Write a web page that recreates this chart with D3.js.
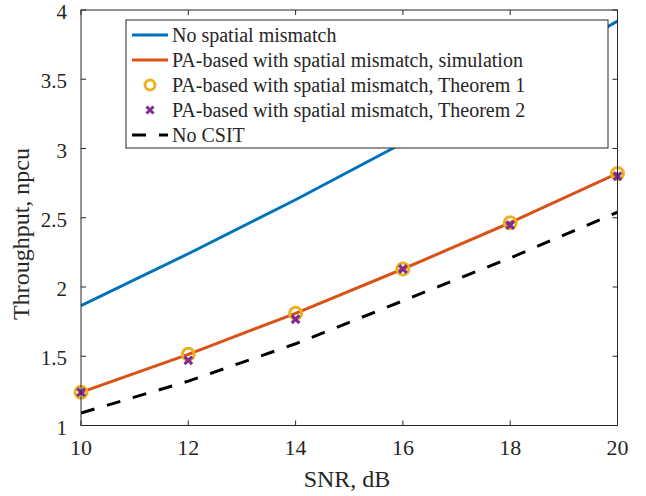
<!DOCTYPE html>
<html>
<head>
<meta charset="utf-8">
<script src="https://cdn.jsdelivr.net/npm/d3@7"></script>
<style>
  body { margin: 0; background: #fff; }
  svg { display: block; }
  text { font-family: "Liberation Serif", "Times New Roman", serif; fill: #262626; }
</style>
</head>
<body>
<svg id="chart" width="646" height="496"></svg>
<script>
// values
var snr = [10, 12, 14, 16, 18, 20];
var noMismatch = [1.865, 2.24, 2.63, 3.04, 3.47, 3.92];
var paSim = [1.24, 1.514, 1.81, 2.13, 2.464, 2.82];
var paThm1 = [1.24, 1.514, 1.81, 2.13, 2.464, 2.82];
var paThm2 = [1.24, 1.47, 1.767, 2.13, 2.447, 2.80];
var noCsit = [1.09, 1.32, 1.59, 1.90, 2.21, 2.54];
var xTicks = [10, 12, 14, 16, 18, 20];
var yTicks = [1, 1.5, 2, 2.5, 3, 3.5, 4];
var legendLabels = [
    'No spatial mismatch',
    'PA-based with spatial mismatch, simulation',
    'PA-based with spatial mismatch, Theorem 1',
    'PA-based with spatial mismatch, Theorem 2',
    'No CSIT'
];

var C = {blue: '#0072bd', orange: '#d95319', yellow: '#edb120', purple: '#7e2f8e', black: '#000', axis: '#262626'};
var L = 81, R = 617.5, T = 10, B = 425.5;

var svg = d3.select('#chart');
var x = d3.scaleLinear().domain([10, 20]).range([L, R]);
var y = d3.scaleLinear().domain([1, 4]).range([B, T]);

var plot = svg.append('g');
plot.append('clipPath').attr('id', 'clip')
    .append('rect').attr('x', L).attr('y', T).attr('width', R - L).attr('height', B - T);

var line = d3.line()
    .x(function(d, i) { return x(snr[i]); })
    .y(function(d) { return y(d); });

var lines = plot.append('g').attr('clip-path', 'url(#clip)');
lines.append('path').datum(noMismatch).attr('d', line)
    .attr('fill', 'none').attr('stroke', C.blue).attr('stroke-width', 3);
lines.append('path').datum(noCsit).attr('d', line)
    .attr('fill', 'none').attr('stroke', C.black).attr('stroke-width', 3)
    .attr('stroke-dasharray', '14,13');
lines.append('path').datum(paSim).attr('d', line)
    .attr('fill', 'none').attr('stroke', C.orange).attr('stroke-width', 3);

// markers
plot.selectAll('.thm1').data(paThm1).enter().append('circle')
    .attr('class', 'thm1')
    .attr('cx', function(d, i) { return x(snr[i]); })
    .attr('cy', function(d) { return y(d); })
    .attr('r', 6).attr('fill', 'none').attr('stroke', C.yellow).attr('stroke-width', 3);

var xMark = function(cx, cy, s) {
    return 'M' + (cx - s) + ',' + (cy - s) + 'L' + (cx + s) + ',' + (cy + s) +
        'M' + (cx - s) + ',' + (cy + s) + 'L' + (cx + s) + ',' + (cy - s);
};
plot.selectAll('.thm2').data(paThm2).enter().append('path')
    .attr('class', 'thm2')
    .attr('d', function(d, i) { return xMark(x(snr[i]), y(d), 3.8); })
    .attr('stroke', C.purple).attr('stroke-width', 3.2).attr('fill', 'none');

// axes box + inward ticks
var ax = svg.append('g').attr('stroke', C.axis).attr('stroke-width', 1).attr('fill', 'none');
ax.append('rect').attr('x', L).attr('y', T).attr('width', R - L).attr('height', B - T);
xTicks.forEach(function(t) {
    ax.append('line').attr('x1', x(t)).attr('x2', x(t)).attr('y1', B).attr('y2', B - 5);
    ax.append('line').attr('x1', x(t)).attr('x2', x(t)).attr('y1', T).attr('y2', T + 5);
});
yTicks.forEach(function(t) {
    ax.append('line').attr('x1', L).attr('x2', L + 5).attr('y1', y(t)).attr('y2', y(t));
    ax.append('line').attr('x1', R).attr('x2', R - 5).attr('y1', y(t)).attr('y2', y(t));
});

svg.selectAll('.xtl').data(xTicks).enter().append('text')
    .attr('class', 'xtl')
    .attr('x', function(d) { return x(d); }).attr('y', 455)
    .attr('text-anchor', 'middle').attr('font-size', 22)
    .text(function(d) { return d; });
svg.selectAll('.ytl').data(yTicks).enter().append('text')
    .attr('class', 'ytl')
    .attr('x', L - 14).attr('y', function(d) { return y(d) + 9; })
    .attr('text-anchor', 'end').attr('font-size', 21)
    .text(function(d) { return d; });

svg.append('text').attr('x', 347).attr('y', 487)
    .attr('text-anchor', 'middle').attr('font-size', 24).text('SNR, dB');
svg.append('text')
    .attr('transform', 'translate(29,234) rotate(-90)')
    .attr('text-anchor', 'middle').attr('font-size', 24).text('Throughput, npcu');

// legend
var lg = svg.append('g');
lg.append('rect').attr('x', 126).attr('y', 20).attr('width', 482).attr('height', 128)
    .attr('fill', '#fff').attr('stroke', C.axis).attr('stroke-width', 1);
var ly = function(i) { return 35 + i * 25; };
lg.append('line').attr('x1', 132).attr('x2', 168).attr('y1', ly(0)).attr('y2', ly(0))
    .attr('stroke', C.blue).attr('stroke-width', 3);
lg.append('line').attr('x1', 132).attr('x2', 168).attr('y1', ly(1)).attr('y2', ly(1))
    .attr('stroke', C.orange).attr('stroke-width', 3);
lg.append('circle').attr('cx', 150).attr('cy', ly(2)).attr('r', 5)
    .attr('fill', 'none').attr('stroke', C.yellow).attr('stroke-width', 3);
lg.append('path').attr('d', xMark(150, ly(3), 3.5))
    .attr('stroke', C.purple).attr('stroke-width', 3).attr('fill', 'none');
lg.append('line').attr('x1', 132).attr('x2', 168).attr('y1', ly(4)).attr('y2', ly(4))
    .attr('stroke', C.black).attr('stroke-width', 3).attr('stroke-dasharray', '14,13');
lg.selectAll('.lt').data(legendLabels).enter().append('text')
    .attr('class', 'lt')
    .attr('x', 172).attr('y', function(d, i) { return ly(i) + 7; })
    .attr('font-size', 20).attr('fill', '#000')
    .text(function(d) { return d; });
</script>
</body>
</html>
